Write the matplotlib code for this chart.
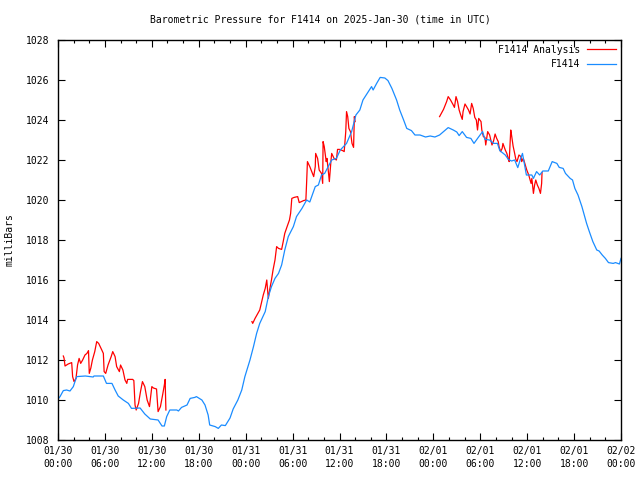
import matplotlib
matplotlib.use("Agg")
import matplotlib.pyplot as plt
import numpy as np

# ---- data (hours since 2025-01-30 00:00 UTC, pressure in mbar) ----
station_h = [0.0, 0.26, 0.68, 1.1, 1.53, 1.96, 2.17, 2.4, 3.5, 4.5, 4.6, 5.0, 5.8, 6.2, 6.9,
             7.3, 7.7, 8.35, 9.0, 9.4, 10.5, 11.1, 11.8, 12.8, 13.3, 13.6, 13.9, 14.3, 15.2,
             15.4, 15.8, 16.5, 16.9, 17.5, 17.7, 18.4, 18.8, 19.2, 19.4, 20.1, 20.5, 20.9,
             21.4, 22.0, 22.4, 23.0, 23.5, 23.9, 24.55, 25.0, 25.4, 25.8, 26.5, 26.9, 27.3,
             27.75, 28.2, 28.6, 29.0, 29.45, 30.1, 30.5, 31.2, 31.8, 32.2, 32.9, 33.3, 33.7,
             34.1, 34.55, 35.0, 35.6, 36.1, 36.9, 37.55, 38.1, 38.6, 39.0, 39.7, 40.1, 40.3,
             40.75, 41.2, 41.8, 42.2, 42.7, 43.3, 43.7, 44.2, 44.6, 45.2, 45.65, 46.3, 47.0,
             47.6, 48.2, 48.8, 49.3, 49.9, 50.55, 51.0, 51.3, 51.7, 52.25, 52.8, 53.2, 53.75,
             54.3, 54.6, 55.2, 55.7, 56.2, 56.5, 57.2, 57.6, 58.0, 58.4, 58.8, 59.1, 59.4,
             59.7, 59.9, 60.6, 60.8, 61.2, 61.6, 62.0, 62.7, 63.2, 63.8, 64.1, 64.6, 64.9,
             65.5, 65.8, 66.1, 66.5, 67.0, 67.3, 67.6, 67.95, 68.4, 68.9, 69.2, 69.6, 70.0,
             70.4, 71.0, 71.3, 71.8, 72.0]
station_p = [1010.05, 1010.17, 1010.47, 1010.5, 1010.45, 1010.67, 1010.92, 1011.17, 1011.2,
             1011.15, 1011.2, 1011.2, 1011.2, 1010.83, 1010.83, 1010.5, 1010.2, 1010.0,
             1009.83, 1009.58, 1009.6, 1009.3, 1009.05, 1009.0, 1008.7, 1008.7, 1009.17,
             1009.5, 1009.5, 1009.45, 1009.63, 1009.75, 1010.08, 1010.13, 1010.17, 1010.0,
             1009.75, 1009.25, 1008.75, 1008.67, 1008.58, 1008.75, 1008.72, 1009.1, 1009.55,
             1010.0, 1010.5, 1011.17, 1012.0, 1012.67, 1013.33, 1013.83, 1014.42, 1015.17,
             1015.67, 1016.08, 1016.33, 1016.75, 1017.5, 1018.17, 1018.67, 1019.17, 1019.58,
             1020.0, 1019.9, 1020.67, 1020.75, 1021.25, 1021.33, 1021.67, 1022.0, 1022.08,
             1022.5, 1022.83, 1023.42, 1024.25, 1024.5, 1025.0, 1025.42, 1025.67, 1025.5,
             1025.83, 1026.13, 1026.1, 1025.97, 1025.58, 1025.0, 1024.5, 1024.0, 1023.58,
             1023.47, 1023.25, 1023.25, 1023.15, 1023.2, 1023.15, 1023.25, 1023.42, 1023.62,
             1023.5, 1023.4, 1023.22, 1023.42, 1023.13, 1023.08, 1022.83, 1023.13, 1023.42,
             1023.03, 1023.0, 1022.83, 1022.83, 1022.47, 1022.25, 1022.03, 1021.95, 1022.0,
             1021.62, 1022.0, 1022.33, 1021.67, 1021.25, 1021.25, 1021.08, 1021.42, 1021.25,
             1021.45, 1021.45, 1021.92, 1021.83, 1021.63, 1021.58, 1021.33, 1021.08, 1021.0,
             1020.58, 1020.25, 1019.67, 1019.25, 1018.83, 1018.42, 1017.92, 1017.5, 1017.45,
             1017.25, 1017.08, 1016.87, 1016.83, 1016.87, 1016.8, 1017.08]

analysis1_h = [0.68, 0.77, 0.9, 1.3, 1.75, 1.87, 2.05, 2.3, 2.5, 2.7, 2.9, 3.15, 3.45, 3.7,
               3.9, 4.0, 4.2, 4.4, 4.7, 4.95, 5.2, 5.6, 5.8, 5.9, 6.1, 6.4, 6.8, 7.0, 7.3, 7.5,
               7.85, 8.0, 8.3, 8.57, 8.8, 8.9, 9.55, 9.7, 9.85, 10.0, 10.3, 10.55, 10.8, 11.1,
               11.4, 11.7, 12.0, 12.2, 12.6, 12.8, 13.1, 13.4, 13.6, 13.7, 13.8]
analysis1_p = [1012.2, 1012.1, 1011.7, 1011.8, 1011.87, 1011.17, 1010.92, 1011.08, 1011.75,
               1012.08, 1011.83, 1012.0, 1012.25, 1012.33, 1012.47, 1011.33, 1011.6, 1012.0,
               1012.42, 1012.92, 1012.83, 1012.5, 1012.33, 1011.42, 1011.33, 1011.75, 1012.17,
               1012.42, 1012.17, 1011.67, 1011.42, 1011.75, 1011.5, 1011.0, 1010.83, 1011.03,
               1011.03, 1010.97, 1009.75, 1009.5, 1009.83, 1010.42, 1010.92, 1010.67, 1010.0,
               1009.67, 1010.67, 1010.6, 1010.55, 1009.42, 1009.67, 1010.3, 1010.75, 1011.03,
               1009.5]

analysis2_h = [24.8, 24.9, 25.2, 25.8, 26.0, 26.25, 26.5, 26.7, 26.8, 26.9, 27.1, 27.3, 27.5,
               27.75, 27.96, 28.2, 28.6, 28.8, 29.0, 29.3, 29.6, 29.75, 29.9, 30.2, 30.65,
               30.85, 31.4, 31.7, 31.8, 31.9, 32.2, 32.7, 32.9, 32.95, 33.2, 33.4, 33.7, 33.85,
               33.9, 34.05, 34.3, 34.4, 34.6, 34.7, 34.9, 35.0, 35.3, 35.6, 35.75, 36.0, 36.4,
               36.6, 36.8, 36.9, 37.05, 37.2, 37.4, 37.6, 37.8, 37.9, 38.0]
analysis2_p = [1013.92, 1013.83, 1014.08, 1014.5, 1014.83, 1015.25, 1015.58, 1016.0, 1015.5,
               1015.08, 1015.58, 1016.0, 1016.5, 1017.0, 1017.67, 1017.58, 1017.53, 1017.92,
               1018.33, 1018.67, 1019.0, 1019.33, 1020.08, 1020.13, 1020.17, 1019.87, 1019.97,
               1020.0, 1020.92, 1021.92, 1021.67, 1021.17, 1021.67, 1022.33, 1022.08, 1021.5,
               1021.33, 1020.83, 1022.92, 1022.67, 1021.92, 1022.08, 1021.33, 1020.92, 1021.92,
               1022.33, 1022.08, 1022.0, 1022.53, 1022.53, 1022.47, 1022.42, 1023.42, 1024.42,
               1024.17, 1023.58, 1023.42, 1022.83, 1022.63, 1024.17, 1023.92]

analysis3_h = [48.8, 49.3, 49.7, 49.9, 50.2, 50.55, 50.7, 50.9, 51.1, 51.3, 51.5, 51.7, 51.8,
               52.05, 52.25, 52.5, 52.7, 52.9, 53.1, 53.3, 53.5, 53.65, 53.8, 54.1, 54.2, 54.4,
               54.6, 54.7, 54.95, 55.2, 55.35, 55.5, 55.7, 55.9, 56.1, 56.3, 56.4, 56.6, 56.8,
               56.9, 57.2, 57.4, 57.6, 57.7, 57.9, 58.0, 58.2, 58.4, 58.55, 58.7, 58.95, 59.2,
               59.3, 59.5, 59.7, 59.95, 60.2, 60.5, 60.6, 60.8, 60.95, 61.1, 61.3, 61.5, 61.7,
               61.85, 61.9]
analysis3_p = [1024.17, 1024.53, 1024.92, 1025.17, 1025.0, 1024.75, 1024.63, 1025.17, 1024.92,
               1024.5, 1024.25, 1024.03, 1024.42, 1024.8, 1024.67, 1024.5, 1024.3, 1024.83,
               1024.58, 1024.13, 1024.0, 1023.5, 1024.08, 1023.92, 1023.5, 1023.17, 1023.13,
               1022.75, 1023.42, 1023.25, 1023.0, 1022.75, 1022.95, 1023.3, 1023.08, 1022.92,
               1022.67, 1022.42, 1022.58, 1022.83, 1022.5, 1022.33, 1022.03, 1021.92, 1023.5,
               1023.25, 1022.7, 1022.33, 1022.03, 1021.92, 1022.25, 1022.17, 1021.92, 1022.08,
               1021.83, 1021.5, 1021.25, 1020.83, 1021.08, 1020.33, 1020.75, 1021.0, 1020.75,
               1020.58, 1020.33, 1020.83, 1021.37]

xtick_hours = [0, 6, 12, 18, 24, 30, 36, 42, 48, 54, 60, 66, 72]
xtick_labels = ["01/30\n00:00", "01/30\n06:00", "01/30\n12:00", "01/30\n18:00",
                "01/31\n00:00", "01/31\n06:00", "01/31\n12:00", "01/31\n18:00",
                "02/01\n00:00", "02/01\n06:00", "02/01\n12:00", "02/01\n18:00",
                "02/02\n00:00"]
ytick_values = [1008, 1010, 1012, 1014, 1016, 1018, 1020, 1022, 1024, 1026, 1028]

title = "Barometric Pressure for F1414 on 2025-Jan-30 (time in UTC)"
ylabel = "milliBars"

# ---- plot ----
plt.rcParams['font.family'] = ['DejaVu Sans Mono']
plt.rcParams['font.size'] = 7

RED = "#ff0000"
BLUE = "#1a8cff"

fig = plt.figure(figsize=(6.4, 4.8), dpi=100)
ax = fig.add_axes([58 / 640, 40 / 480, 563 / 640, 400 / 480])

ax.plot(analysis1_h, analysis1_p, color=RED, lw=0.9, label="F1414 Analysis")
ax.plot(analysis2_h, analysis2_p, color=RED, lw=0.9)
ax.plot(analysis3_h, analysis3_p, color=RED, lw=0.9)
ax.plot(station_h, station_p, color=BLUE, lw=0.9, label="F1414")

ax.set_xlim(0, 72)
ax.set_ylim(1008, 1028)
ax.set_xticks(xtick_hours)
ax.set_xticklabels(xtick_labels)
ax.set_xticks(np.arange(0, 73, 2), minor=True)
ax.set_yticks(ytick_values)
ax.set_yticklabels([str(v) for v in ytick_values])
for lbl in ax.get_xticklabels():
    lbl.set_linespacing(1.45)

ax.tick_params(axis='both', which='major', direction='in', length=5, width=0.8,
               top=True, right=True, labelsize=7, color='black')
ax.tick_params(axis='x', which='major', pad=4)
ax.tick_params(axis='y', which='major', pad=6)
ax.tick_params(axis='x', which='minor', direction='in', length=2.5, width=0.8, top=True)
for s in ax.spines.values():
    s.set_linewidth(1.0)

ax.set_ylabel(ylabel, fontsize=7)
ax.yaxis.set_label_coords(-0.077, 0.5)
fig.text(0.5, 1 - 19 / 480, title, ha='center', va='center', fontsize=7)

leg = ax.legend(loc='upper right', frameon=False, markerfirst=False, fontsize=7,
                handlelength=3.0, handletextpad=0.7, labelspacing=0.45,
                borderaxespad=0.2, borderpad=0.3)

fig.savefig("out.png", dpi=100)
